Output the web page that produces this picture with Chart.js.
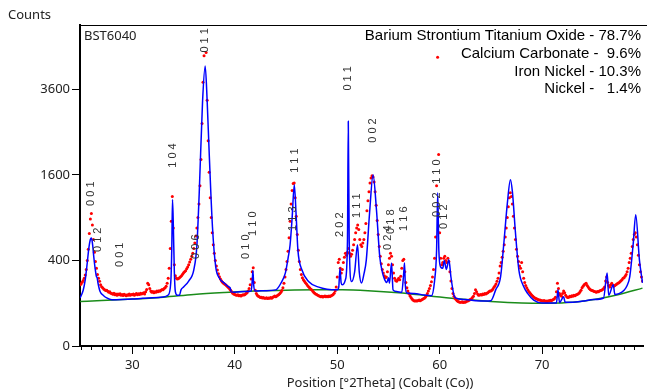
<!DOCTYPE html>
<html>
<head>
<meta charset="utf-8">
<script src="https://cdn.jsdelivr.net/npm/chart.js@4.4.1/dist/chart.umd.min.js"></script>
<style>
  html, body { margin: 0; padding: 0; background: #fff; }
  #wrap { position: relative; width: 647px; height: 392px; }
</style>
</head>
<body>
<div id="wrap"><canvas id="xrd"></canvas></div>
<script>
// observed scan, one value every 0.1 deg starting at 24.9
const obsStart = 24.9;
const obsStep = 0.1;
const obsCounts = [
  205,
  210,222,235,250,275,320,400,510,690,880,
  960,800,620,480,390,330,280,250,228,205,
  192,185,178,172,168,170,163,158,160,152,
  150,146,152,144,148,141,147,143,149,140,
  145,139,146,142,138,144,140,147,141,145,
  143,148,141,146,150,144,149,145,152,147,
  150,155,148,160,175,215,205,180,165,158,
  162,155,160,158,165,160,167,163,170,175,
  172,180,185,195,215,250,330,520,850,1220,
  760,360,270,250,245,248,255,262,270,282,
  292,300,310,325,340,360,385,410,440,470,
  520,580,660,760,900,1100,1400,1900,2700,3800,
  4600,5900,4700,3300,2300,1650,1200,900,700,560,
  470,400,350,315,285,262,245,232,222,215,
  210,205,198,192,185,178,170,160,152,148,
  145,142,140,143,138,141,137,140,144,142,
  145,150,155,165,180,205,245,300,335,220,
  170,150,140,135,132,128,130,126,128,125,
  124,127,123,126,125,128,124,130,133,136,
  132,136,140,145,150,158,168,185,215,260,
  320,390,490,640,850,1100,1320,1440,1450,1200,
  920,680,500,390,320,280,255,240,228,218,
  210,200,192,185,178,172,165,158,152,148,
  145,140,138,135,133,135,131,134,136,132,
  135,132,136,134,138,140,145,152,165,190,
  260,380,410,330,290,320,380,430,470,450,
  480,520,470,440,460,500,560,620,700,760,
  800,740,620,560,540,580,620,700,820,1000,
  1150,1300,1450,1540,1580,1560,1470,1300,1080,860,
  680,540,440,370,320,290,270,255,260,300,
  360,420,470,440,360,290,250,235,228,240,
  250,240,265,330,400,410,300,220,185,165,
  150,138,128,120,115,112,110,112,110,113,
  115,112,116,118,122,125,130,138,150,165,
  180,200,225,260,320,420,650,1400,4550,2000,
  700,420,360,380,420,440,400,380,420,390,
  300,230,180,150,135,125,118,112,108,106,
  105,104,107,103,106,104,108,110,112,115,
  118,122,128,135,150,172,160,148,140,142,
  145,142,148,145,150,148,152,155,160,165,
  165,170,178,188,198,210,228,250,290,350,
  380,430,490,560,650,760,900,1060,1200,1280,
  1220,1100,920,760,620,510,440,390,350,330,
  380,300,250,220,200,185,172,162,155,148,
  140,135,130,126,123,120,118,116,115,113,
  112,110,113,109,111,108,112,110,114,112,
  115,118,122,130,160,215,180,150,140,135,
  150,165,155,140,132,128,130,135,132,138,
  135,140,138,142,145,148,152,160,170,185,
  195,205,210,215,200,190,180,175,170,168,
  165,162,160,158,162,160,165,168,170,175,
  180,190,230,260,220,200,190,205,215,200,
  195,200,205,210,215,218,225,232,240,250,
  255,265,280,300,330,380,420,470,540,620,
  680,700,650,560,450,360,300,260,230
];

// calculated profile
const calcPos = [
  24.9,25.2,25.4,25.6,25.75,25.9,26.0,26.1,26.25,26.35,26.5,26.55,26.65,26.85,27.2,27.5,28,29,30,31,32,33,
  33.5,33.75,33.85,33.92,34.0,34.1,34.2,34.4,34.6,34.75,35.0,35.5,36.0,36.3,36.53,36.85,37.11,37.3,37.5,37.82,
  38.14,38.47,39.0,39.4,39.55,39.65,40,41,41.6,41.72,41.77,41.85,42.0,43,44,44.5,44.94,45.2,45.4,45.6,45.81,
  46.0,46.16,46.55,47.2,48.2,49,50.0,50.15,50.27,50.38,50.5,50.8,51.0,51.08,51.17,51.4,51.7,51.98,52.15,52.37,
  52.6,52.84,53.16,53.5,53.83,54.15,54.4,54.64,54.85,55.0,55.1,55.3,55.45,55.8,56.3,56.5,56.57,56.65,56.8,57.5,
  58.5,59.2,59.5,59.7,59.81,59.92,60.1,60.3,60.45,60.65,60.9,61.1,61.4,61.6,62.5,63.5,64.5,65.0,65.47,65.95,
  66.27,66.6,66.91,67.1,67.4,67.73,68.2,68.6,69.18,70,71.4,71.55,71.7,72.1,72.25,73,74,75,76,76.35,76.5,76.95,
  77.1,77.5,78.0,78.3,78.56,78.9,79.14,79.5,79.8
];
const calcCounts = [
  126,170,239,380,520,620,636,580,420,340,262,258,215,162,138,126,117,118,120,124,127,131,
  142,220,520,1170,800,300,160,140,140,172,190,230,317,550,1284,3238,4277,3300,2043,777,
  342,254,215,191,185,160,158,162,165,250,311,200,165,167,172,215,292,420,560,900,1420,
  900,505,317,227,189,176,172,190,331,220,204,240,600,2757,600,227,300,560,300,216,
  280,405,970,1603,1014,437,300,239,220,254,215,375,172,162,157,300,375,200,153,150,
  142,138,230,500,1280,500,340,330,400,320,405,260,140,125,118,112,110,112,172,263,
  582,1100,1511,1300,700,317,193,150,115,101,101,172,103,133,104,104,110,118,126,290,140,204,
  145,150,170,200,263,578,941,405,218
];

// fitted background
const bgPos = [24.9,27,30,33,36,39,42,45,48,50.5,53,56,59,62,65,68,70.5,73,75.5,77.5,79.8];
const bgCounts = [108,113,120,130,145,156,165,170,172,172,167,155,137,120,108,101,100,104,122,145,183];

// hkl markers: peak position, label, label height (counts)
const hklPos = [25.93,26.67,28.77,33.94,36.2,37.12,41.1,41.77,45.9,45.65,50.27,51.08,51.95,53.5,54.96,55.2,56.5,59.74,59.74,60.45];
const hklText = ["0 0 1","0 1 2","0 0 1","1 0 4","0 0 6","0 1 1","0 1 0","1 1 0","1 1 1","1 1 3","2 0 2","0 1 1","1 1 1","0 0 2","0 2 4","0 1 8","1 1 6","1 1 0","0 0 2","0 1 2"];
const hklHeight = [1267,616,454,1980,538,5100,538,816,1877,885,803,3910,1075,2535,640,843,885,1660,1090,913];

const phases = [
  "Barium Strontium Titanium Oxide - 78.7%",
  "Calcium Carbonate -  9.6%",
  "Iron Nickel - 10.3%",
  "Nickel -   1.4%"
];

const yTicks = [0, 400, 1600, 3600];
const xTicks = [30, 40, 50, 60, 70];

const sq = (v) => Math.sqrt(v);
const obsData  = obsCounts.map((c, i) => ({ x: +(obsStart + i * obsStep).toFixed(2), y: sq(c) }));
const calcData = calcPos.map((p, i) => ({ x: p, y: sq(calcCounts[i]) }));
const bgData   = bgPos.map((p, i) => ({ x: p, y: sq(bgCounts[i]) }));

const UI = "'Noto Sans', 'Open Sans', sans-serif";
const ARIAL = "'Liberation Sans', Arial, sans-serif";

// frame, minor ticks, hkl labels and texts
const decor = {
  id: "decor",
  afterDatasetsDraw(chart) {
    const { ctx, scales } = chart;
    const x = scales.x, y = scales.y;
    ctx.save();
    ctx.fillStyle = "#333";
    ctx.font = "11px " + ARIAL;
    ctx.textAlign = "center";
    ctx.textBaseline = "middle";
    hklPos.forEach((p, i) => {
      ctx.save();
      ctx.translate(x.getPixelForValue(p), y.getPixelForValue(sq(hklHeight[i])));
      ctx.rotate(-Math.PI / 2);
      ctx.fillText(hklText[i], 0, 0);
      ctx.restore();
    });
    ctx.restore();
  },
  afterDraw(chart) {
    const { ctx, chartArea: a, scales } = chart;
    const x = scales.x;
    ctx.save();
    // top frame line
    ctx.strokeStyle = "#000";
    ctx.lineWidth = 1.2;
    ctx.beginPath();
    ctx.moveTo(a.left, a.top + 0.5);
    ctx.lineTo(chart.width, a.top + 0.5);
    ctx.stroke();
    // minor ticks every degree
    ctx.lineWidth = 1;
    ctx.beginPath();
    for (let d = 25; d <= 79; d++) {
      if (d % 10 === 0) continue;
      const px = Math.round(x.getPixelForValue(d)) + 0.5;
      ctx.moveTo(px, a.bottom);
      ctx.lineTo(px, a.bottom + 4);
    }
    ctx.stroke();

    ctx.fillStyle = "#222";
    ctx.textBaseline = "middle";
    ctx.font = "13px " + UI;
    ctx.textAlign = "left";
    ctx.fillText("Counts", 8, 15);
    ctx.fillText("BST6040", 84, 36);
    ctx.textAlign = "center";
    ctx.fillText("Position [°2Theta] (Cobalt (Co))", 380, 383);

    ctx.fillStyle = "#000";
    ctx.font = "15px " + ARIAL;
    ctx.textAlign = "right";
    phases.forEach((t, i) => ctx.fillText(t, 641, 36 + i * 17.7));
    ctx.restore();
  }
};

new Chart(document.getElementById("xrd"), {
  type: "scatter",
  data: {
    datasets: [
      { label: "Calculated", data: calcData, showLine: true, borderColor: "#0000ff", borderWidth: 1.5,
        pointRadius: 0, cubicInterpolationMode: "monotone", order: 0 },
      { label: "Observed", data: obsData, showLine: false, backgroundColor: "#ff0000", borderWidth: 0,
        pointRadius: 1.5, order: 1 },
      { label: "Background", data: bgData, showLine: true, borderColor: "#1a8c1a", borderWidth: 1.5,
        pointRadius: 0, cubicInterpolationMode: "monotone", order: 2 }
    ]
  },
  options: {
    responsive: true,
    maintainAspectRatio: false,
    animation: false,
    devicePixelRatio: 1,
    layout: { padding: { top: 25, right: 0, left: 0, bottom: 0 } },
    plugins: { legend: { display: false }, tooltip: { enabled: false } },
    scales: {
      x: {
        type: "linear", position: "bottom", min: 24.89, max: 79.85,
        afterBuildTicks: (s) => { s.ticks = xTicks.map((v) => ({ value: v })); },
        afterFit: (s) => { s.height = 46; },
        grid: { drawOnChartArea: false, tickLength: 8, tickColor: "#000", tickWidth: 1 },
        border: { color: "#000", width: 2 },
        ticks: { color: "#222", font: { family: UI, size: 13 }, padding: 3, maxRotation: 0, autoSkip: false }
      },
      y: {
        type: "linear", min: 0, max: 75,
        afterBuildTicks: (s) => { s.ticks = yTicks.map((v) => ({ value: sq(v) })); },
        afterFit: (s) => { s.width = 80; },
        grid: { drawOnChartArea: false, tickLength: 8, tickColor: "#000", tickWidth: 1 },
        border: { color: "#000", width: 2 },
        ticks: { color: "#222", font: { family: UI, size: 13 }, padding: 2,
                 callback: (v) => String(Math.round(v * v)) }
      }
    }
  },
  plugins: [decor]
});
</script>
</body>
</html>
